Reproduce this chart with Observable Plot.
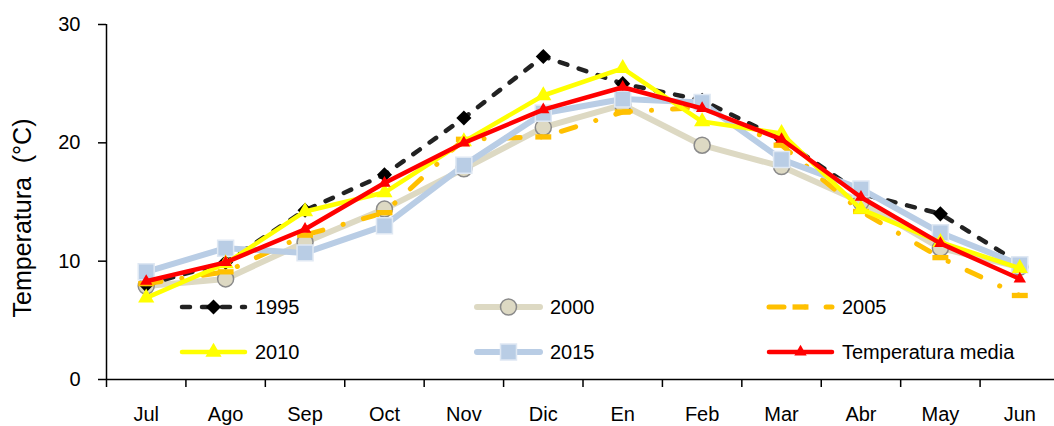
<!DOCTYPE html>
<html><head><meta charset="utf-8">
<script src="https://cdn.jsdelivr.net/npm/d3@7"></script>
<script src="https://cdn.jsdelivr.net/npm/@observablehq/plot@0.6"></script>
<style>
html,body{margin:0;padding:0;background:#fff;overflow:hidden}
#wrap{position:relative;width:1054px;height:426px;overflow:hidden;background:#fff}
.item{position:absolute;height:26px;display:flex;align-items:center;font:20px "Liberation Sans",Arial,sans-serif;color:#000;white-space:nowrap}
.item svg{display:block;overflow:visible}
</style></head><body><div id="wrap"></div>
<script>
// ---- data ----
const months = ["Jul","Ago","Sep","Oct","Nov","Dic","En","Feb","Mar","Abr","May","Jun"];
const yTicks = [0, 10, 20, 30];
const y1995 = [8.0, 9.9, 14.3, 17.3, 22.1, 27.3, 25.0, 23.6, 20.3, 15.7, 14.0, 9.8];
const y2000 = [7.9, 8.5, 11.6, 14.4, 17.8, 21.3, 23.2, 19.8, 18.0, 15.0, 11.1, 9.5];
const y2005 = [8.1, 9.1, 12.2, 14.1, 20.3, 20.5, 22.6, 23.0, 19.8, 14.2, 10.3, 7.1];
const y2010 = [6.9, 9.8, 14.2, 15.8, 20.1, 24.0, 26.3, 21.8, 20.8, 14.4, 11.6, 9.4];
const y2015 = [9.1, 11.1, 10.7, 13.0, 18.1, 22.5, 23.7, 23.4, 18.6, 16.1, 12.4, 9.7];
const yMedia = [8.3, 9.9, 12.7, 16.6, 20.0, 22.8, 24.7, 22.9, 20.3, 15.4, 11.5, 8.5];
const seriesNames = ["1995","2000","2005","2010","2015","Temperatura media"];
const seriesValues = [y1995, y2000, y2005, y2010, y2015, yMedia];

// ---- styles ----
const barSymbol = {draw(ctx, size){ const s = Math.sqrt(size); const w = s*1.8, h = s*0.6; ctx.rect(-w/2, -h/2, w, h); }};
const styles = {
  "1995": {stroke:"#222222", sw:4.5, dash:"8,12", symbol:"diamond2", r:6.8, fill:"#000000", mstroke:"none"},
  "2000": {stroke:"#ddd9c3", sw:6, dash:null, symbol:"circle", r:8, fill:"#ddd9c3", mstroke:"#8a8a8a"},
  "2005": {stroke:"#ffc000", sw:5, dash:"15,21,0.1,21", symbol:barSymbol, r:5, fill:"#ffc000", mstroke:"none"},
  "2010": {stroke:"#ffff00", sw:4.5, dash:null, symbol:"triangle", r:6, fill:"#ffff00", mstroke:"none"},
  "2015": {stroke:"#b9cde5", sw:6, dash:null, symbol:"square", r:9, fill:"#b9cde5", mstroke:"#dfe8f3"},
  "Temperatura media": {stroke:"#ff0000", sw:4.5, dash:null, symbol:"triangle", r:4.6, fill:"#ff0000", mstroke:"none"}
};
const drawOrder = ["2000","1995","2005","2015","2010","Temperatura media"];

const marks = [];
for (const name of drawOrder) {
  const vals = seriesValues[seriesNames.indexOf(name)];
  const rows = months.map((m, i) => ({i, v: vals[i]}));
  const st = styles[name];
  marks.push(Plot.line(rows, {x:"i", y:"v", stroke: st.stroke, strokeWidth: st.sw, strokeDasharray: st.dash ?? undefined, strokeLinecap:"round", strokeLinejoin:"round"}));
  marks.push(Plot.dot(rows, {x:"i", y:"v", symbol: st.symbol, r: st.r, fill: st.fill, stroke: st.mstroke, strokeWidth: 1.5}));
}

const chart = Plot.plot({
  width: 1059, height: 426,
  marginLeft: 106, marginRight: 0, marginTop: 24, marginBottom: 47,
  style: {maxWidth: "none", fontFamily: "'Liberation Sans', Arial, sans-serif", fontSize: "20px", background: "#fff", overflow: "visible"},
  x: {type: "linear", domain: [-0.5, 11.5]},
  y: {domain: [0, 30]},
  marks: [
    Plot.axisX(months.map((m, i) => i), {tickSize: 0, tickPadding: 27, tickFormat: i => months[i], fontSize: 20, label: null}),
    Plot.axisX(d3.range(13).map(i => i - 0.5), {tickSize: 8, tickFormat: () => "", strokeWidth: 1.5, label: null}),
    Plot.axisY(yTicks, {tickSize: 8, tickPadding: 18, fontSize: 20, strokeWidth: 1.5, label: null}),
    Plot.text(["Temperatura\u00a0\u00a0(°C)"], {frameAnchor: "left", textAnchor: "middle", rotate: -90, dx: -84, dy: 16, fontSize: 25}),
    ...marks,
    Plot.ruleY([0], {stroke: "#000", strokeWidth: 1.5}),
    Plot.ruleX([-0.5], {stroke: "#000", strokeWidth: 1.5})
  ]
});
const wrap = document.getElementById("wrap");
wrap.appendChild(chart);

// ---- legend (HTML overlay) ----
const legendCols = [179, 474, 766];
const legendRows = [307, 352];
seriesNames.forEach((name, k) => {
  const st = styles[name];
  const div = document.createElement("div");
  div.className = "item";
  div.style.left = legendCols[k % 3] + "px";
  div.style.top = (legendRows[Math.floor(k / 3)] - 13) + "px";
  const svg = d3.create("svg").attr("width", 76).attr("height", 26);
  svg.append("line").attr("x1", 3).attr("x2", 66).attr("y1", 13).attr("y2", 13)
    .attr("stroke", st.stroke).attr("stroke-width", st.sw).attr("stroke-linecap", "round")
    .attr("stroke-dasharray", st.dash);
  const symType = typeof st.symbol === "string"
    ? ({circle: d3.symbolCircle, diamond2: d3.symbolDiamond2, triangle: d3.symbolTriangle, square: d3.symbolSquare})[st.symbol]
    : st.symbol;
  svg.append("path").attr("transform", "translate(34.5,13)")
    .attr("d", d3.symbol(symType, Math.PI * st.r * st.r)())
    .attr("fill", st.fill).attr("stroke", st.mstroke).attr("stroke-width", 1.5);
  div.appendChild(svg.node());
  const span = document.createElement("span");
  span.textContent = name;
  div.appendChild(span);
  wrap.appendChild(div);
});
</script></body></html>
